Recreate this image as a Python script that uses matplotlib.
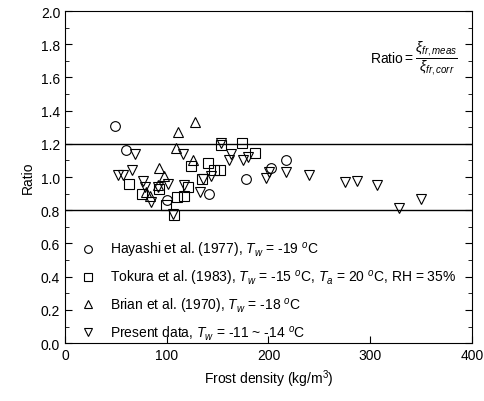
import matplotlib
matplotlib.use('Agg')
import matplotlib.pyplot as plt
from matplotlib.ticker import MultipleLocator

plt.rcParams['font.family'] = ['Liberation Sans', 'DejaVu Sans']
plt.rcParams['mathtext.fontset'] = 'custom'
plt.rcParams['mathtext.rm'] = 'Liberation Sans'
plt.rcParams['mathtext.it'] = 'Liberation Sans:italic'
plt.rcParams['mathtext.sf'] = 'Liberation Sans'

# Hayashi et al. (1977)
hay_x = [49, 60, 100, 142, 178, 203, 217]
hay_y = [1.31, 1.165, 0.86, 0.90, 0.99, 1.055, 1.105]

# Tokura et al. (1983)
tok_x = [63, 76, 92, 99, 107, 110, 117, 121, 123.5, 135, 141, 146, 152, 153, 174, 187]
tok_y = [0.96, 0.90, 0.93, 0.83, 0.77, 0.88, 0.885, 0.94, 1.065, 0.99, 1.085, 1.045,
         1.04, 1.195, 1.205, 1.145]

# Brian et al. (1970)
bri_x = [80, 84, 91, 92, 97, 109, 111, 126, 128]
bri_y = [0.91, 0.885, 0.95, 1.055, 1.005, 1.175, 1.27, 1.10, 1.33]

# Present data
pre_x = [52, 57, 66, 69, 77, 79, 85, 91, 101, 106, 116, 117, 133, 136, 144, 153,
         161, 163, 175, 180, 198, 201, 217, 240, 275, 287, 307, 328, 350]
pre_y = [1.01, 1.01, 1.04, 1.14, 0.975, 0.94, 0.85, 0.94, 0.96, 0.775, 1.14, 0.95,
         0.91, 0.99, 1.005, 1.205, 1.10, 1.14, 1.10, 1.12, 0.995, 1.03, 1.03, 1.01,
         0.97, 0.975, 0.95, 0.815, 0.87]

band = [0.8, 1.2]

fig = plt.figure(figsize=(4.85, 4.02), dpi=100)
ax = fig.add_axes([0.134, 0.144, 0.839, 0.826])

mk = dict(linestyle='none', markerfacecolor='none', markeredgecolor='black',
          markeredgewidth=0.8, markersize=7)
ax.plot(hay_x, hay_y, marker='o', label='Hayashi et al. (1977), $T_w$ = -19 $^o$C', **mk)
ax.plot(tok_x, tok_y, marker='s',
        label='Tokura et al. (1983), $T_w$ = -15 $^o$C, $T_a$ = 20 $^o$C, RH = 35%', **mk)
ax.plot(bri_x, bri_y, marker='^', label='Brian et al. (1970), $T_w$ = -18 $^o$C', **mk)
ax.plot(pre_x, pre_y, marker='v', label='Present data, $T_w$ = -11 ~ -14 $^o$C', **mk)

for b in band:
    ax.axhline(b, color='black', linewidth=1.0)

ax.set_xlim(0, 400)
ax.set_ylim(0, 2.0)
ax.xaxis.set_major_locator(MultipleLocator(100))
ax.yaxis.set_major_locator(MultipleLocator(0.2))
ax.yaxis.set_minor_locator(MultipleLocator(0.1))
ax.yaxis.set_major_formatter(plt.FormatStrFormatter('%.1f'))
ax.tick_params(which='both', direction='in', right=True, top=False, labelsize=10)
ax.tick_params(which='major', length=5)
ax.tick_params(which='minor', length=3)

ax.set_xlabel('Frost density (kg/m$^3$)', fontsize=10)
ax.set_ylabel('Ratio', fontsize=10)

ax.text(300, 1.72, r'Ratio$=\dfrac{\xi_{fr,meas}}{\xi_{fr,corr}}$', fontsize=10,
        va='center', ha='left')

ax.legend(loc='lower left', bbox_to_anchor=(0.026, -0.008), frameon=False, fontsize=10,
          markerscale=0.8, handlelength=1.2, handletextpad=0.98, labelspacing=0.62,
          borderaxespad=0.0, borderpad=0.3)

fig.savefig('out.png', dpi=100)
